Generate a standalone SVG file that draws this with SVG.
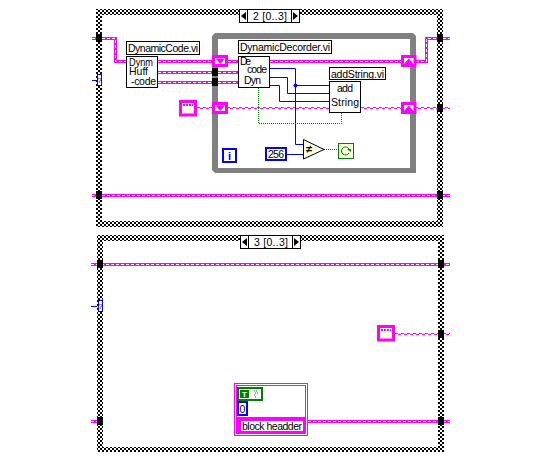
<svg xmlns="http://www.w3.org/2000/svg" width="545" height="465" viewBox="0 0 545 465">
<style>
text{font-family:"Liberation Sans",Arial,sans-serif;font-size:10.5px;fill:#000}
.box{fill:#fff;stroke:#000;stroke-width:1}
.tk{fill:none;stroke:#ff00ff;stroke-width:3}
.td{fill:none;stroke:#fff;stroke-width:1;stroke-dasharray:3 2}
.tn1{fill:none;stroke:#ff00ff;stroke-width:1;stroke-dasharray:3 3}
.tn2{fill:none;stroke:#ff00ff;stroke-width:1;stroke-dasharray:3 3;stroke-dashoffset:3}
.bl{fill:none;stroke:#0000ff;stroke-width:1}
.gd{fill:none;stroke:#008000;stroke-width:1;stroke-dasharray:1 1}
.bk{fill:#000}
.tri{fill:#ff00ff}
.tb{fill:#fff;stroke:#ff00ff;stroke-width:3}
.cf{fill:#ffffde;stroke:#ff00ff;stroke-width:3}
.q{stroke:#ff00ff;stroke-width:2;stroke-dasharray:2 1;fill:none}
</style>
<defs>
<pattern id="chk" width="4" height="4" patternUnits="userSpaceOnUse">
<rect width="4" height="4" fill="#fff"/>
<rect width="2" height="2" fill="#000"/>
<rect x="2" y="2" width="2" height="2" fill="#000"/>
</pattern>
</defs>
<rect width="545" height="465" fill="#fff"/>

<g id="frame-top">
<path d="M96 9H443V227H96Z M102 15V221H437V15Z" fill="url(#chk)" fill-rule="evenodd"/>
<g id="selector-top"><rect class="box" x="239.500" y="9.500" width="60" height="13"/><path d="M247.500 10V22M291.500 10V22" stroke="#000"/><path d="M246 12V20L241 16Z M293 12V20L298 16Z" class="bk"/><text x="253" y="20" textLength="34">2 [0..3]</text></g>
</g>
<g id="frame-bottom">
<path d="M97 235H444V452H97Z M103 241V447H438V241Z" fill="url(#chk)" fill-rule="evenodd"/>
<g id="selector-bottom"><rect class="box" x="240.500" y="235.500" width="60" height="13"/><path d="M248.500 236V248M292.500 236V248" stroke="#000"/><path d="M247 238V246L242 242Z M294 238V246L299 242Z" class="bk"/><text x="254" y="246" textLength="34">3 [0..3]</text></g>
</g>
<g id="loop">
<path d="M215 33H413L416 36V173H215L212 170V36Z M218 39V168H410V39Z" fill="#808080" fill-rule="evenodd"/>
</g>

<g id="connectors">
<path class="tk" d="M92 38.500H115.500V61.500H126"/><path class="td" d="M92 38.500H115.500V61.500H126"/>
<path class="tk" d="M158 61.500H238M158 72.500H238M158 82.500H238"/><path class="td" d="M158 61.500H238M158 72.500H238M158 82.500H238"/>
<path class="tk" d="M270 61.500H402M416 61.500H426.500V38.500H450"/><path class="td" d="M270 61.500H402M416 61.500H426.500V38.500H450"/>
<path class="tk" d="M92 195.500H450M91 264.500H450M308 421.500H450M91 421.500H103"/><path class="td" d="M92 195.500H450M91 264.500H450M308 421.500H450M91 421.500H103"/>
<path class="tn1" d="M197 107.500H329M361 107.500H450M395 333.500H450"/>
<path class="tn2" d="M197 108.500H329M361 108.500H450M395 334.500H450"/>
<path class="bl" d="M270 68.500H295.500V144.500H303M295.500 85.500H329M270 77.500H287.500V93.500H329M270 85.500H279.500V101.500H329M287 154.500H303M92 80.500H97M91 306.500H97"/>
<circle cx="295.500" cy="85.500" r="2" fill="#0000ff"/>
<path class="gd" d="M258.500 88V123.500H341.500V113M324 149.500H338"/>
</g>

<g id="term-top" class="bk">
<rect x="96" y="34" width="6" height="8"/><rect x="437" y="34" width="6" height="8"/>
<rect x="96" y="191" width="6" height="8"/><rect x="437" y="191" width="6" height="8"/>
<rect x="212" y="68" width="6" height="8"/><rect x="212" y="78" width="6" height="8"/>
<rect x="437" y="104" width="6" height="8"/>
</g>
<g id="term-bottom" class="bk">
<rect x="97" y="260" width="6" height="8"/><rect x="438" y="260" width="6" height="8"/>
<rect x="438" y="330" width="6" height="8"/>
<rect x="97" y="417" width="6" height="8"/><rect x="438" y="417" width="6" height="8"/>
</g>
<g id="select-top"><rect x="97.500" y="74.500" width="4" height="11" fill="#fff" stroke="#0000ff"/><text x="99.500" y="83" text-anchor="middle" style="font-size:8px">?</text></g>
<g id="select-bottom"><rect x="98.500" y="300.500" width="4" height="11" fill="#fff" stroke="#0000ff"/><text x="100.500" y="309" text-anchor="middle" style="font-size:8px">?</text></g>

<g id="dynamic-code">
<rect class="box" x="126.500" y="41.500" width="73" height="13"/><text x="128" y="52" textLength="70">DynamicCode.vi</text>
<rect class="box" x="126.500" y="56.500" width="31" height="31"/>
<text x="129" y="65.500" textLength="24" lengthAdjust="spacingAndGlyphs">Dynm</text><text x="129" y="75" textLength="19">Huff</text><text x="131" y="84.500" textLength="25">-code</text>
</g>
<g id="dynamic-decoder">
<rect class="box" x="238.500" y="40.500" width="93" height="13"/><text x="240" y="51" textLength="90">DynamicDecorder.vi</text>
<rect class="box" x="238.500" y="56.500" width="31" height="31"/>
<text x="240" y="65" textLength="11">De</text><text x="247" y="72.500" textLength="20">code</text><text x="244" y="83.500" textLength="17">Dyn</text>
</g>
<g id="add-string">
<rect class="box" x="329.500" y="67.500" width="56" height="12"/><text x="331" y="77.500" textLength="53">addString.vi</text>
<rect class="box" x="329.500" y="81.500" width="31" height="31"/>
<text x="337" y="92" textLength="16">add</text><text x="331" y="106" textLength="28">String</text>
</g>
<g id="tunnel-l1"><rect class="tb" x="213.500" y="56.500" width="13" height="9"/><path class="tri" d="M215.500 58.500H225L220.250 64Z"/></g>
<g id="tunnel-l2"><rect class="tb" x="213.500" y="103.500" width="13" height="9"/><path class="tri" d="M215.500 105.500H225L220.250 111Z"/></g>
<g id="tunnel-r1"><rect class="tb" x="402.500" y="56.500" width="12.500" height="9"/><path class="tri" d="M404 64H413.500L408.750 58.500Z"/></g>
<g id="tunnel-r2"><rect class="tb" x="402.500" y="103.500" width="12.500" height="9"/><path class="tri" d="M404 111H413.500L408.750 105.500Z"/></g>
<g id="str-const-top"><rect class="cf" x="180.500" y="101.500" width="15" height="13.500"/><rect x="182" y="103" width="12" height="4" fill="#fff"/><path class="q" d="M183 105H193"/></g>
<g id="str-const-bottom"><rect class="cf" x="378.500" y="326.500" width="15" height="13.500"/><rect x="380" y="328" width="12" height="4" fill="#fff"/><path class="q" d="M381 330H391"/></g>
<g id="compare"><path d="M303.500 139.500L324 149.500L303.500 159Z" fill="#ffffde" stroke="#000"/><text x="306" y="153" style="font-size:11px;font-weight:bold">≠</text></g>
<g id="const-256"><rect x="266" y="148" width="20" height="12" fill="#fff" stroke="#0000ff" stroke-width="2"/><text x="268" y="158" textLength="16">256</text></g>
<g id="stop"><rect x="338.500" y="143.500" width="15" height="15" fill="#ffffde" stroke="#008000"/><path d="M349 149A4 4 0 1 0 349 153" fill="none" stroke="#008000"/><path d="M347 149H351V152Z" fill="#008000"/></g>
<g id="index"><rect x="223" y="149" width="13" height="13" fill="#fff" stroke="#0000ff" stroke-width="2"/><text x="229.500" y="160" text-anchor="middle" style="fill:#0000ff;font-weight:bold;font-size:11px">i</text></g>
<g id="cluster">
<rect x="234.500" y="383.500" width="73" height="52" fill="#fff" stroke="#ff00ff"/>
<rect x="236.500" y="385.500" width="69" height="48" fill="#fff" stroke="#ff00ff"/>
<rect x="237" y="417" width="69" height="17" fill="#ff00ff"/>
<rect x="241" y="421" width="62" height="10" fill="#fff"/>
<rect x="238" y="388" width="24" height="12" fill="#fff" stroke="#008000" stroke-width="2"/>
<rect x="240" y="390" width="9" height="8" fill="#008000"/>
<text x="244.500" y="397" text-anchor="middle" style="fill:#fff;font-size:8px;font-weight:bold">T</text>
<path d="M254 391H257M255 393H258M254 395H256M255 397H257" stroke="#008000" stroke-dasharray="1 1"/>
<rect x="238" y="402" width="9" height="13" fill="#fff" stroke="#0000ff" stroke-width="2"/>
<text x="242.500" y="413" text-anchor="middle">0</text>
<text x="242" y="429.500" textLength="60">block headder</text>
</g>
</svg>
